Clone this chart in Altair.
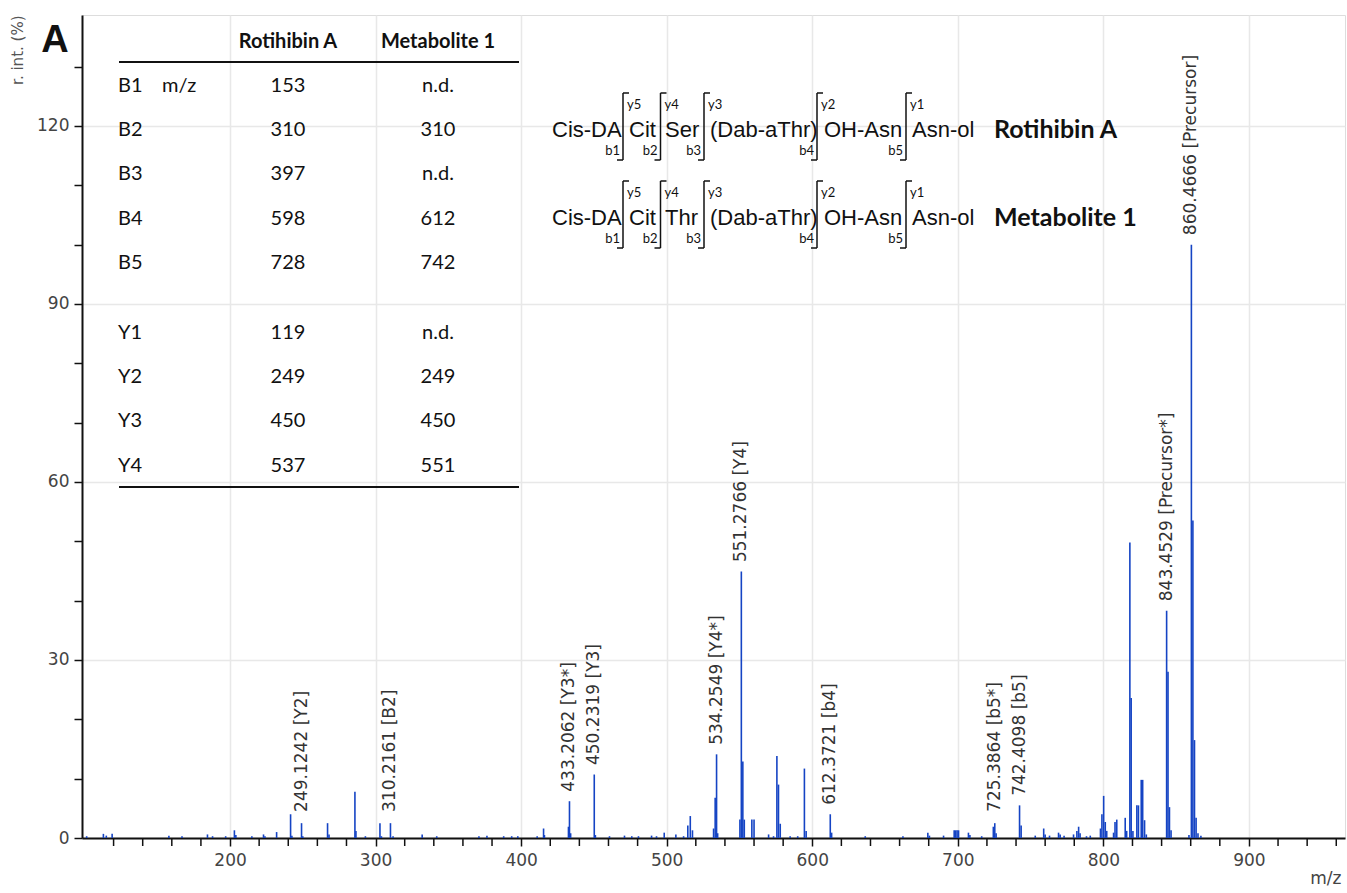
import altair as alt
import pandas as pd

# ---------------- data ----------------
mz = [101.5, 113, 115, 119, 158, 167, 184.5, 188, 197, 203, 204, 215, 223, 224, 232,
      241.6, 242.5, 249.1242, 250, 267, 268, 285.8, 286.5, 293, 303, 304, 310.2161, 312,
      332, 342, 371, 376.5, 388, 393.5, 397.7, 411, 415.4, 416, 432.5, 433.2062, 434,
      450.2319, 451, 460.7, 471, 476, 480.6, 489.6, 493, 498.3, 506.3, 511.6, 514.5, 516.2,
      517.7, 532.2, 533.3, 534.2549, 535, 550.3, 551.2766, 552.3, 553.3, 558.5, 560, 570,
      573.4, 575.7, 576.8, 578, 584.8, 590, 594.6, 595.8, 612.3721, 613.3, 636.4, 662.3,
      679.4, 680.5, 690.2, 697.5, 698.5, 699.5, 700.5, 707.3, 708.3, 716.4, 724.4, 725.3864,
      726.3, 742.4098, 743.5, 753.2, 759, 760, 763, 769.2, 770.3, 773, 779.5, 781.8, 783,
      784, 788.4, 791, 798, 799, 800.2, 801.3, 802.3, 807, 808, 809.2, 815, 816, 818.2,
      819.1, 820.3, 823, 824.1, 826, 827, 828.3, 829.5, 843.4529, 844.4, 845.4, 846.5,
      858.8, 860.4666, 861.5, 862.6, 863.7, 865, 867]
intensity = [0.3, 0.7, 0.4, 0.7, 0.4, 0.3, 0.6, 0.3, 0.3, 1.3, 0.5, 0.3, 0.6, 0.3, 1.0,
             4.0, 0.4, 2.5, 0.3, 2.5, 0.6, 7.8, 1.2, 0.3, 2.5, 0.3, 2.5, 0.3,
             0.6, 0.3, 0.3, 0.4, 0.3, 0.3, 0.3, 0.3, 1.6, 0.5, 1.9, 6.2, 0.8,
             10.7, 0.5, 0.3, 0.4, 0.3, 0.3, 0.4, 0.3, 0.9, 0.6, 0.3, 2.1, 3.7,
             1.3, 1.6, 6.8, 14.1, 0.8, 3.1, 44.9, 12.9, 3.1, 3.1, 3.1, 0.6,
             0.3, 13.8, 9.0, 2.4, 0.3, 0.3, 11.7, 1.2, 4.0, 0.9, 0.3, 0.3,
             0.9, 0.4, 0.4, 1.3, 1.3, 1.3, 1.3, 0.9, 0.5, 0.3, 1.9, 2.5,
             0.8, 5.5, 2.1, 0.4, 1.6, 0.6, 0.4, 0.9, 0.6, 0.4, 0.6, 1.2, 1.9,
             0.8, 0.3, 0.4, 1.6, 4.0, 7.1, 2.7, 1.2, 0.9, 2.7, 3.1, 3.4, 1.2, 49.8,
             23.6, 1.2, 5.5, 5.5, 9.8, 9.8, 3.0, 0.6, 38.3, 28.0, 5.2, 1.3,
             0.5, 100.0, 53.5, 16.5, 3.4, 0.8, 0.4]

label_mz = [249.1242, 310.2161, 433.2062, 450.2319, 534.2549, 551.2766, 612.3721,
            725.3864, 742.4098, 843.4529, 860.4666]
label_int = [2.5, 2.5, 6.2, 10.7, 14.1, 44.9, 4.0, 2.5, 5.5, 38.3, 100.0]
label_ion = ["Y2", "B2", "Y3*", "Y3", "Y4*", "Y4", "b4", "b5*", "b5", "Precursor*", "Precursor"]

# axis ticks
x_major = [200, 300, 400, 500, 600, 700, 800, 900]
x_minor = [v for v in range(120, 961, 20) if v % 100 != 0]
y_ticks = list(range(0, 131, 10))

# table
ions = ["B1", "B2", "B3", "B4", "B5", "Y1", "Y2", "Y3", "Y4"]
rotihibin = ["153", "310", "397", "598", "728", "119", "249", "450", "537"]
metabolite = ["n.d.", "310", "n.d.", "612", "742", "n.d.", "249", "450", "551"]
table_header = ["Rotihibin A", "Metabolite 1"]

# structures
residues_a = ["Cis-DA", "Cit", "Ser", "(Dab-aThr)", "OH-Asn", "Asn-ol"]
residues_m = ["Cis-DA", "Cit", "Thr", "(Dab-aThr)", "OH-Asn", "Asn-ol"]
y_ions = ["y5", "y4", "y3", "y2", "y1"]
b_ions = ["b1", "b2", "b3", "b4", "b5"]
compound_names = ["Rotihibin A", "Metabolite 1"]

# ---------------- layout ----------------
W, H = 1263, 823
X_MIN, X_MAX = 98.3, 966.0
Y_MAX = 138.7
BLUE = "#1544c4"


def dx(px):  # annotation layout: plot-pixel -> m/z units
    return X_MIN + px * (X_MAX - X_MIN) / W


def dy(py):  # annotation layout: plot-pixel -> intensity units
    return Y_MAX - py * Y_MAX / H


xscale = alt.Scale(domain=[X_MIN, X_MAX], nice=False, zero=False)
yscale = alt.Scale(domain=[0, Y_MAX], nice=False, zero=False)

spec = pd.DataFrame({"mz": mz, "h": intensity})
labels = pd.DataFrame({
    "mz": label_mz, "h": label_int,
    "txt": [f"{m:.4f} [{i}]" for m, i in zip(label_mz, label_ion)],
})

AXIS_FONT = "DejaVu Sans"
x_axis = alt.Axis(
    values=x_major,
    labelOverlap=False,
    grid=True, gridColor="#e8e8e8", gridWidth=1.5,
    tickSize=8, tickWidth=1.5, tickColor="#111",
    domainColor="#111", domainWidth=2,
    labelFont=AXIS_FONT, labelFontSize=17, labelColor="#444", labelPadding=6,
    labelFlush=False,
    title="m/z", titleFont=AXIS_FONT, titleFontSize=17, titleFontWeight="normal",
    titleColor="#444", titleAnchor="end", titleAlign="right", titleBaseline="middle",
    titleX=W - 4, titleY=40,
)
y_axis = alt.Axis(
    values=y_ticks,
    labelExpr="datum.value % 30 === 0 ? datum.value : ''",
    labelOverlap=False,
    grid=True,
    gridOpacity={"condition": {"test": "datum.value % 30 === 0", "value": 1}, "value": 0},
    gridColor="#e8e8e8", gridWidth=1.5,
    tickSize=8, tickWidth=1.5, tickColor="#111",
    domainColor="#111", domainWidth=2,
    labelFont=AXIS_FONT, labelFontSize=17, labelColor="#444", labelPadding=5,
    labelFlush=False,
    title="r. int. (%)", titleFont=AXIS_FONT, titleFontSize=15,
    titleFontWeight="normal", titleColor="#555", titleAngle=270,
    titleAlign="right", titleBaseline="middle", titleX=-65, titleY=0,
)

stems = alt.Chart(spec).mark_rule(color=BLUE, strokeWidth=1.6).encode(
    x=alt.X("mz:Q", scale=xscale, axis=x_axis),
    y=alt.Y("h:Q", scale=yscale, axis=y_axis),
    y2=alt.datum(0),
)

# minor ticks of the m/z axis (every 20), hanging below the axis line
minor = alt.Chart(pd.DataFrame({"mz": x_minor})).mark_rule(
    color="#111", strokeWidth=1.5
).encode(
    x="mz:Q", y=alt.datum(0), y2=alt.datum(-8 * Y_MAX / H)
)

peak_labels = alt.Chart(labels).transform_calculate(
    ly="max(datum.h + 1.6, 4.4)"
).mark_text(
    angle=270, align="left", baseline="middle", font="DejaVu Sans", fontSize=17, color="#333"
).encode(
    x="mz:Q", y=alt.Y("ly:Q"), text="txt:N"
)

# ---------- table ----------
row_py = []
for i in range(len(ions)):
    if i < 5:
        row_py.append(71 + i * 44.2)
    else:
        row_py.append(318 + (i - 5) * 44.2)

tab_left = pd.DataFrame({
    "mz": [dx(36)] * len(ions) + [dx(80)],
    "h": [dy(p) for p in row_py] + [dy(row_py[0])],
    "txt": ions + ["m/z"],
})
tab_center = pd.DataFrame({
    "mz": [dx(206)] * len(ions) + [dx(356)] * len(ions),
    "h": [dy(p) for p in row_py] * 2,
    "txt": rotihibin + metabolite,
})
tab_head = pd.DataFrame({
    "mz": [dx(206), dx(356)], "h": [dy(27)] * 2, "txt": table_header,
})
tab_lines = pd.DataFrame({
    "mz": [dx(37)] * 2, "mz2": [dx(437)] * 2, "h": [dy(47), dy(472)],
})

t_left = alt.Chart(tab_left).mark_text(
    align="left", baseline="middle", font="Lato", fontSize=20, color="#111"
).encode(x="mz:Q", y="h:Q", text="txt:N")
t_center = alt.Chart(tab_center).mark_text(
    align="center", baseline="middle", font="Lato", fontSize=20, color="#111"
).encode(x="mz:Q", y="h:Q", text="txt:N")
t_head = alt.Chart(tab_head).mark_text(
    align="center", baseline="middle", font="Lato", fontSize=20, fontWeight="bold", color="#111"
).encode(x="mz:Q", y="h:Q", text="txt:N")
t_lines = alt.Chart(tab_lines).mark_rule(color="#111", strokeWidth=2.2).encode(
    x="mz:Q", x2="mz2:Q", y="h:Q"
)

# ---------- structures ----------
res_left_px = [470, 547, 583, 628, 742, 830]
sep_px = [541, 578.5, 622, 735, 824]
row_text_py = [115, 203]
res_rows, seps, ylab, blab, names = [], [], [], [], []
for r, residues in enumerate([residues_a, residues_m]):
    ty = row_text_py[r]
    for i, name in enumerate(residues):
        res_rows.append({"mz": dx(res_left_px[i]), "h": dy(ty), "txt": name})
    for i, sx in enumerate(sep_px):
        top, bot = ty - 37, ty + 30
        seps.append({"mz": dx(sx), "mz2": dx(sx), "h": dy(top), "h2": dy(bot)})
        seps.append({"mz": dx(sx), "mz2": dx(sx + 6), "h": dy(top), "h2": dy(top)})
        seps.append({"mz": dx(sx - 6), "mz2": dx(sx), "h": dy(bot), "h2": dy(bot)})
        ylab.append({"mz": dx(sx + 4), "h": dy(ty - 25), "txt": y_ions[i]})
        blab.append({"mz": dx(sx - 3), "h": dy(ty + 21), "txt": b_ions[i]})
    names.append({"mz": dx(912), "h": dy(ty), "txt": compound_names[r]})

s_res = alt.Chart(pd.DataFrame(res_rows)).mark_text(
    align="left", baseline="middle", font="Liberation Sans", fontSize=22, color="#111"
).encode(x="mz:Q", y="h:Q", text="txt:N")
s_sep = alt.Chart(pd.DataFrame(seps)).mark_rule(color="#111", strokeWidth=1.5).encode(
    x="mz:Q", x2="mz2:Q", y="h:Q", y2="h2:Q"
)
s_y = alt.Chart(pd.DataFrame(ylab)).mark_text(
    align="left", baseline="middle", font="Lato", fontSize=13, color="#111"
).encode(x="mz:Q", y="h:Q", text="txt:N")
s_b = alt.Chart(pd.DataFrame(blab)).mark_text(
    align="right", baseline="middle", font="Lato", fontSize=13, color="#111"
).encode(x="mz:Q", y="h:Q", text="txt:N")
s_names = alt.Chart(pd.DataFrame(names)).mark_text(
    align="left", baseline="middle", font="Lato", fontSize=25, fontWeight="bold", color="#111"
).encode(x="mz:Q", y="h:Q", text="txt:N")

panel = alt.Chart(pd.DataFrame({"t": ["A"]})).mark_text(
    align="center", baseline="middle", font="Liberation Sans", fontSize=38,
    fontWeight="bold", color="#111"
).encode(x=alt.value(-27), y=alt.value(26), text="t:N")

chart = alt.layer(
    stems, minor, peak_labels, t_lines, t_left, t_center, t_head,
    s_sep, s_res, s_y, s_b, s_names, panel
).properties(
    width=W, height=H,
    autosize=alt.AutoSizeParams(type="none"),
    padding={"left": 82, "top": 15, "right": 2, "bottom": 55},
).configure_view(
    stroke="#222", strokeWidth=1.8
).configure(background="white")

chart.save("out.html", embed_options={"renderer": "svg", "actions": False})
